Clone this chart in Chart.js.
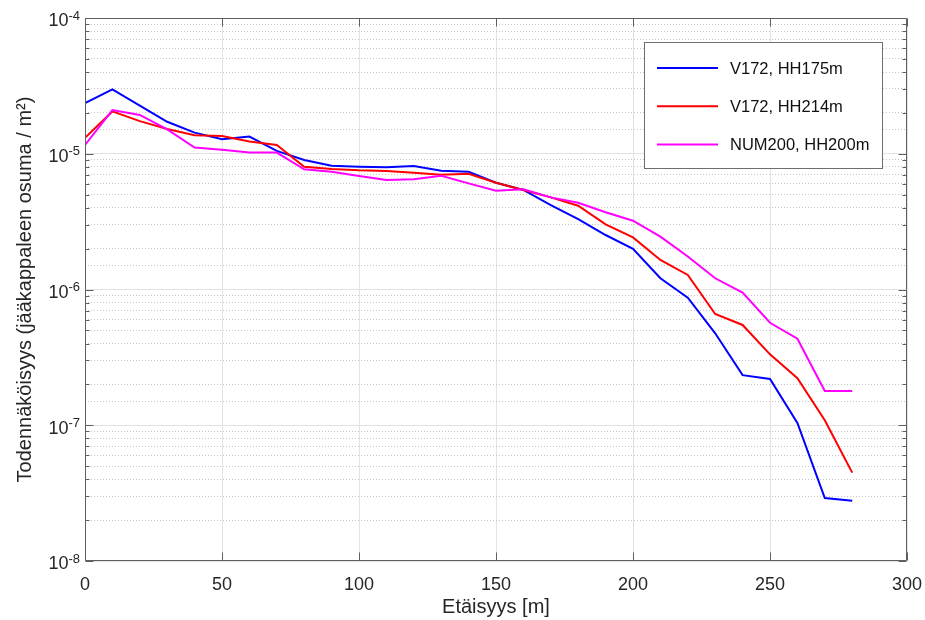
<!DOCTYPE html>
<html>
<head>
<meta charset="utf-8">
<script src="https://cdn.jsdelivr.net/npm/chart.js@4.4.1/dist/chart.umd.min.js"></script>
<style>
  html, body { margin: 0; padding: 0; background: #fff; }
  #wrap { width: 925px; height: 620px; }
</style>
</head>
<body>
<div id="wrap"><canvas id="myChart" width="925" height="620"></canvas></div>
<script>
"use strict";

// distance from turbine [m]
const distances = [0, 10, 20, 30, 40, 50, 60, 70, 80, 90, 100, 110, 120, 130, 140,
    150, 160, 170, 180, 190, 200, 210, 220, 230, 240, 250, 260, 270, 280];

const seriesNames = ['V172, HH175m', 'V172, HH214m', 'NUM200, HH200m'];

// hit probability per m2
const v172hh175 = [2.36e-5, 2.98e-5, 2.26e-5, 1.72e-5, 1.43e-5, 1.28e-5, 1.34e-5, 1.05e-5,
    9.0e-6, 8.17e-6, 8.03e-6, 7.95e-6, 8.12e-6, 7.5e-6, 7.37e-6, 6.12e-6, 5.41e-6,
    4.19e-6, 3.30e-6, 2.52e-6, 1.99e-6, 1.21e-6, 8.7e-7, 4.76e-7, 2.34e-7, 2.19e-7,
    1.04e-7, 2.91e-8, 2.78e-8];
const v172hh214 = [1.31e-5, 2.05e-5, 1.74e-5, 1.52e-5, 1.37e-5, 1.35e-5, 1.23e-5, 1.16e-5,
    8.03e-6, 7.73e-6, 7.55e-6, 7.47e-6, 7.25e-6, 7.01e-6, 7.13e-6, 6.12e-6, 5.41e-6,
    4.77e-6, 4.14e-6, 3.02e-6, 2.42e-6, 1.65e-6, 1.28e-6, 6.6e-7, 5.48e-7, 3.33e-7,
    2.22e-7, 1.09e-7, 4.48e-8];
const num200hh200 = [1.16e-5, 2.10e-5, 1.93e-5, 1.51e-5, 1.11e-5, 1.07e-5, 1.02e-5, 1.02e-5,
    7.68e-6, 7.38e-6, 6.86e-6, 6.41e-6, 6.49e-6, 6.89e-6, 6.05e-6, 5.35e-6, 5.47e-6,
    4.77e-6, 4.36e-6, 3.71e-6, 3.21e-6, 2.45e-6, 1.75e-6, 1.21e-6, 9.48e-7, 5.69e-7,
    4.34e-7, 1.79e-7, 1.79e-7];

const xTicks = [0, 50, 100, 150, 200, 250, 300];
const yTickExponents = [-8, -7, -6, -5, -4];

const textColor = '#262626';
const axisColor = '#5f5f5f';
const fontFamily = '"Liberation Sans", Arial, Helvetica, sans-serif';

Chart.defaults.font.family = fontFamily;
Chart.defaults.color = textColor;

const isDecade = v => Math.abs(Math.log10(v) - Math.round(Math.log10(v))) < 1e-6;
const pts = vals => distances.map((d, i) => ({x: d, y: vals[i]}));

// MATLAB-like axes box, inward ticks, 10^n labels and legend
const matlabAxes = {
    id: 'matlabAxes',
    afterDatasetsDraw(chart) {
        const {ctx, chartArea: a, scales} = chart;
        const x = scales.x, y = scales.y;
        const L = Math.round(a.left) + 0.5, R = Math.round(a.right) - 0.5;
        const T = Math.round(a.top) + 0.5, B = Math.round(a.bottom) - 0.5;
        ctx.save();
        ctx.strokeStyle = axisColor;
        ctx.lineWidth = 1;
        ctx.beginPath();
        ctx.rect(L, T, R - L, B - T);
        xTicks.forEach(t => {
            const px = Math.round(x.getPixelForValue(t)) + 0.5;
            ctx.moveTo(px, B); ctx.lineTo(px, B - 8);
            ctx.moveTo(px, T); ctx.lineTo(px, T + 8);
        });
        yTickExponents.forEach(e => {
            for (let m = 1; m <= 9; m++) {
                const v = m * Math.pow(10, e);
                if (v > y.max * 1.0001) break;
                const py = Math.round(y.getPixelForValue(v)) + 0.5;
                const len = m === 1 ? 8 : 4;
                ctx.moveTo(L, py); ctx.lineTo(L + len, py);
                ctx.moveTo(R, py); ctx.lineTo(R - len, py);
            }
        });
        ctx.stroke();
        ctx.restore();
    },
    afterDraw(chart) {
        const {ctx, chartArea: a, scales} = chart;
        const y = scales.y;
        ctx.save();
        // y tick labels with superscript exponent
        ctx.fillStyle = textColor;
        ctx.textAlign = 'right';
        ctx.textBaseline = 'middle';
        yTickExponents.forEach(e => {
            const py = y.getPixelForValue(Math.pow(10, e));
            const exp = String(e);
            ctx.font = '13px ' + fontFamily;
            const ew = ctx.measureText(exp).width;
            ctx.fillText(exp, a.left - 5, py - 2);
            ctx.font = '18px ' + fontFamily;
            ctx.fillText('10', a.left - 5 - ew, py + 3.5);
        });
        // legend
        const bx = 644.5, by = 42.5, bw = 238, bh = 126;
        ctx.fillStyle = '#fff';
        ctx.fillRect(bx, by, bw, bh);
        ctx.strokeStyle = '#6e6e6e';
        ctx.lineWidth = 1;
        ctx.strokeRect(bx, by, bw, bh);
        ctx.font = '16.5px ' + fontFamily;
        ctx.textAlign = 'left';
        ctx.textBaseline = 'middle';
        chart.data.datasets.forEach((ds, i) => {
            const ly = 68 + i * 38.2;
            ctx.strokeStyle = ds.borderColor;
            ctx.lineWidth = 2;
            ctx.beginPath();
            ctx.moveTo(657, ly);
            ctx.lineTo(718, ly);
            ctx.stroke();
            ctx.fillStyle = '#111';
            ctx.fillText(ds.label, 730, ly + 1);
        });
        ctx.restore();
    }
};

const ctx = document.getElementById('myChart');
const myChart = new Chart(ctx, {
    type: 'line',
    data: {
        datasets: [{
            label: seriesNames[0],
            data: pts(v172hh175),
            borderColor: '#0000ff',
            order: 3
        }, {
            label: seriesNames[1],
            data: pts(v172hh214),
            borderColor: '#ff0000',
            order: 2
        }, {
            label: seriesNames[2],
            data: pts(num200hh200),
            borderColor: '#ff00ff',
            order: 1
        }]
    },
    options: {
        responsive: false,
        animation: false,
        devicePixelRatio: 1,
        layout: {
            padding: {left: 0, right: 18, top: 18, bottom: 0}
        },
        elements: {
            point: {radius: 0, hoverRadius: 0},
            line: {borderWidth: 2, tension: 0, fill: false}
        },
        plugins: {
            legend: {display: false},
            tooltip: {enabled: false}
        },
        scales: {
            x: {
                type: 'linear',
                min: 0,
                max: 300,
                ticks: {
                    stepSize: 50,
                    font: {size: 18},
                    color: textColor,
                    padding: 13,
                    maxRotation: 0
                },
                grid: {color: '#e4e4e4', drawTicks: false},
                border: {display: false},
                title: {
                    display: true,
                    text: 'Etäisyys [m]',
                    font: {size: 20},
                    color: textColor,
                    padding: {top: 0, bottom: 1}
                },
                afterFit(s) {
                    s.height = 59;
                    s.paddingLeft = 0;
                    s.paddingRight = 0;
                }
            },
            yMinor: {
                type: 'logarithmic',
                position: 'left',
                min: 1e-8,
                max: 1e-4,
                ticks: {display: false},
                grid: {
                    color: c => isDecade(c.tick.value) ? 'rgba(0,0,0,0)' : '#c6c6c6',
                    drawTicks: false
                },
                border: {display: false, dash: [1, 2]},
                afterFit(s) { s.width = 0; }
            },
            y: {
                type: 'logarithmic',
                position: 'left',
                min: 1e-8,
                max: 1e-4,
                ticks: {display: false},
                grid: {
                    color: c => isDecade(c.tick.value) ? '#e4e4e4' : 'rgba(0,0,0,0)',
                    drawTicks: false
                },
                border: {display: false},
                title: {
                    display: true,
                    text: 'Todennäköisyys (jääkappaleen osuma / m²)',
                    font: {size: 20},
                    color: textColor,
                    padding: {top: 13, bottom: 0}
                },
                afterFit(s) { s.width = 85; }
            }
        }
    },
    plugins: [matlabAxes]
});
</script>
</body>
</html>
